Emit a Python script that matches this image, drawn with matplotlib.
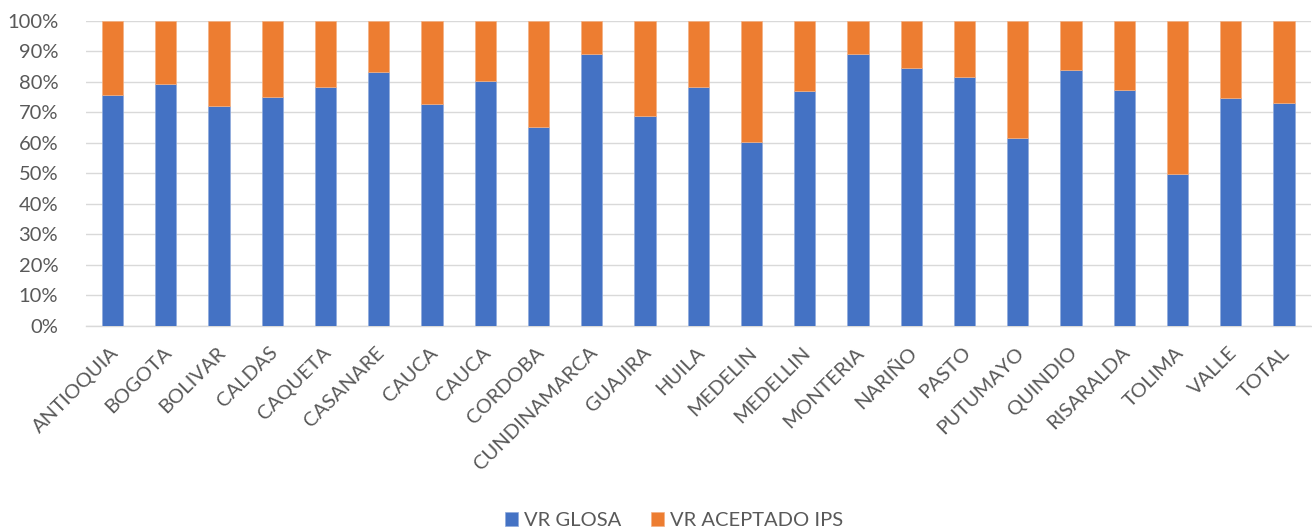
import matplotlib.pyplot as plt
import matplotlib as mpl
import numpy as np
from matplotlib.ticker import PercentFormatter
import matplotlib.transforms as mtransforms

mpl.rcParams['font.family'] = ['Lato', 'DejaVu Sans']
mpl.rcParams['font.size'] = 14.5
mpl.rcParams['text.color'] = '#595959'

categories = ['ANTIOQUIA', 'BOGOTA', 'BOLIVAR', 'CALDAS', 'CAQUETA', 'CASANARE',
              'CAUCA', 'CAUCA', 'CORDOBA', 'CUNDINAMARCA', 'GUAJIRA', 'HUILA',
              'MEDELIN', 'MEDELLIN', 'MONTERIA', 'NARIÑO', 'PASTO', 'PUTUMAYO',
              'QUINDIO', 'RISARALDA', 'TOLIMA', 'VALLE', 'TOTAL']

# share of VR GLOSA (%), the rest is VR ACEPTADO IPS
vr_glosa = [75.5, 79.1, 71.9, 75.0, 78.4, 83.3,
            72.7, 80.3, 65.0, 89.1, 68.9, 78.1,
            60.4, 77.1, 88.9, 84.6, 81.5, 61.5,
            83.9, 77.4, 49.9, 74.5, 73.1]
vr_aceptado = [100 - v for v in vr_glosa]

blue = '#4472C4'
orange = '#ED7D31'

fig = plt.figure(figsize=(13.12, 5.28), dpi=100)
ax = fig.add_axes([0.0655, 0.3826, 0.9335, 0.5784])

x = np.arange(len(categories))
ax.bar(x, vr_glosa, width=0.4, color=blue, edgecolor='#8FAADC', linewidth=0.5,
       label='VR GLOSA', zorder=3)
ax.bar(x, vr_aceptado, width=0.4, bottom=vr_glosa, color=orange,
       edgecolor='#F4B183', linewidth=0.5, label='VR ACEPTADO IPS', zorder=3)

ax.set_xlim(-0.5, len(categories) - 0.5)
ax.set_ylim(0, 100)
ax.set_yticks(np.arange(0, 101, 10))
ax.yaxis.set_major_formatter(PercentFormatter(decimals=0))
ax.yaxis.grid(True, color='#D9D9D9', linewidth=1.0, zorder=0)
ax.set_axisbelow(True)

for s in ['top', 'right', 'left']:
    ax.spines[s].set_visible(False)
ax.spines['bottom'].set_color('#D9D9D9')
ax.spines['bottom'].set_linewidth(1.0)

ax.tick_params(axis='both', length=0, colors='#595959', labelsize=14.5)
ax.tick_params(axis='y', pad=20)
ax.set_xticks(x)
ax.set_xticklabels(categories, rotation=45, ha='right', va='top',
                   rotation_mode='anchor')
# shift labels so their ends sit like Excel's
offset = mtransforms.ScaledTranslation(-3 / 100, -13 / 100, fig.dpi_scale_trans)
for lbl in ax.get_xticklabels():
    lbl.set_transform(lbl.get_transform() + offset)

fig.legend(loc='center', bbox_to_anchor=(0.5137, 0.014), ncol=2, frameon=False,
           handlelength=0.65, handleheight=0.65, handletextpad=0.3,
           columnspacing=1.45, fontsize=14.5)

fig.savefig('out.png', dpi=100)
